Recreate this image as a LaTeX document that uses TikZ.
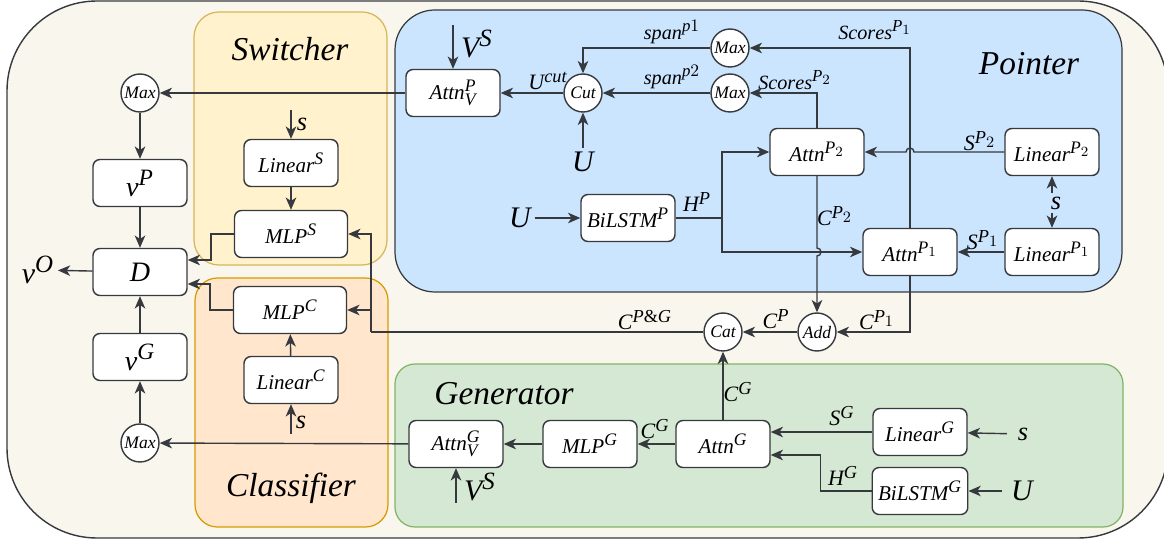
\documentclass[tikz,border=0pt]{standalone}
\usepackage{fontspec}
\setmainfont{Liberation Serif}
\usepackage[italic]{mathastext}
\usepackage{tikz}
\usetikzlibrary{arrows.meta}
\usetikzlibrary{positioning, calc}

\definecolor{outerfill}{HTML}{F9F7ED}
\definecolor{outerline}{HTML}{36393D}
\definecolor{ptrfill}{HTML}{CCE5FF}
\definecolor{swfill}{HTML}{FFF2CC}
\definecolor{swline}{HTML}{D6B656}
\definecolor{clsfill}{HTML}{FFE6CC}
\definecolor{clsline}{HTML}{D79B00}
\definecolor{genfill}{HTML}{D5E8D4}
\definecolor{genline}{HTML}{82B366}

\tikzset{
  block/.style={draw=outerline, rounded corners=0.14cm, fill=white, line width=0.8pt,
    minimum width=1.88cm, minimum height=0.94cm, font=\fontsize{12}{14}\selectfont},
  op/.style={draw=outerline, circle, fill=white, line width=0.8pt, inner sep=0pt,
    minimum size=0.76cm, font=\fontsize{10}{12}\selectfont},
  lbl/.style={inner sep=1pt, font=\fontsize{12.5}{14}\selectfont},
  small/.style={inner sep=1pt, font=\fontsize{11.5}{13}\selectfont},
  inp/.style={inner sep=2pt, font=\fontsize{17}{19}\selectfont},
  title/.style={font=\fontsize{19}{22}\selectfont},
  flow/.style={-{Stealth[length=7pt,width=6pt,inset=2pt]}, line width=0.8pt, outerline},
  wire/.style={line width=0.8pt, outerline},
}

\begin{document}
\begin{tikzpicture}[x=0.02cm, y=-0.02cm]
    \useasboundingbox (0,0) rectangle (1164,540);

    \draw[outerline, fill=outerfill, line width=0.8pt, rounded corners=1.8cm] (7,1) rectangle (1168,538);
    \draw[swline, fill=swfill, line width=0.7pt, rounded corners=0.5cm] (194,12) rectangle (387,265);
    \draw[clsline, fill=clsfill, line width=0.7pt, rounded corners=0.45cm] (195,278) rectangle (388,527);
    \draw[outerline, fill=ptrfill, line width=0.7pt, rounded corners=0.8cm] (395,10) rectangle (1122,292);
    \draw[genline, fill=genfill, line width=0.7pt, rounded corners=0.4cm] (395,364) rectangle (1123,527);

    \node[title] (Sw) at (290,49) {$Switcher$};
    \node[title] (Cl) at (291,488) {$Classifier$};
    \node[title] (Pt) at (1029,64) {$Pointer$};
    \node[title] (Gn) at (504,394) {$Generator$};

    \node[op] (MaxVP) at (140,93) {$Max$};
    \node[block, font=\fontsize{16}{18}\selectfont] (VP) at (140,183) {$v^P$};
    \node[block, font=\fontsize{16}{18}\selectfont] (D) at (140,272) {$D$};
    \node[block, font=\fontsize{16}{18}\selectfont] (VG) at (140,357) {$v^G$};
    \node[op] (MaxVG) at (140,443) {$Max$};
    \node[inp] (VO) at (38,270) {$v^O$};

    \node[block] (LS) at (291,163) {$Linear^S$};
    \node[block, minimum width=2.26cm] (MLPS) at (291,234) {$MLP^S$};
    \node[block, minimum width=2.26cm] (MLPC) at (290,310) {$MLP^C$};
    \node[block] (LC) at (291,380) {$Linear^C$};

    \node[block] (AVP) at (453,93) {$Attn^P_V$};
    \node[op] (Cut) at (583,93) {$Cut$};
    \node[op] (MaxA) at (730,48) {$Max$};
    \node[op] (MaxB) at (730,93) {$Max$};
    \node[block] (AP2) at (817,152) {$Attn^{P_2}$};
    \node[block] (LP2) at (1052,152) {$Linear^{P_2}$};
    \node[block] (BLP) at (628,218) {$BiLSTM^P$};
    \node[block] (AP1) at (910,252) {$Attn^{P_1}$};
    \node[block] (LP1) at (1052,252) {$Linear^{P_1}$};
    \node[op] (Add) at (817,332) {$Add$};
    \node[op] (Cat) at (723,332) {$Cat$};

    \node[block] (AVG) at (456,444) {$Attn^G_V$};
    \node[block] (MLPG) at (590,444) {$MLP^G$};
    \node[block] (AG) at (723,444) {$Attn^G$};
    \node[block] (LG) at (920,432) {$Linear^G$};
    \node[block] (BLG) at (920,491) {$BiLSTM^G$};

    \coordinate (VSa) at (453,25);
    \node[inp] (VSaL) at (477,44) {$V^S$};
    \node[inp] (UCut) at (583,162) {$U$};
    \node[inp] (UBLP) at (520,218) {$U$};
    \node[inp, font=\fontsize{15}{17}\selectfont] (SP) at (1056,203) {$s$};
    \coordinate (SSw) at (291,110);
    \node[inp, font=\fontsize{15}{17}\selectfont] (SSwL) at (302,124) {$s$};
    \coordinate (SCl) at (291,434);
    \node[inp, font=\fontsize{15}{17}\selectfont] (SClL) at (301,422) {$s$};
    \coordinate (VSb) at (456,503);
    \node[inp] (VSbL) at (480,487) {$V^S$};
    \node[inp, font=\fontsize{15}{17}\selectfont] (SG) at (1023,434) {$s$};
    \node[inp] (UG) at (1022,491) {$U$};

    \node[lbl] (LUcut) at (548,81) {$U^{cut}$};
    \node[small] (LSp1) at (672,32) {$span^{p1}$};
    \node[small] (LSp2) at (672,77) {$span^{p2}$};
    \node[small] (LSc2) at (795,80) {$Scores^{P_2}$};
    \node[small] (LSc1) at (875,30) {$Scores^{P_1}$};
    \node[lbl] (LS2) at (980,141) {$S^{P_2}$};
    \node[lbl] (LS1) at (983,240) {$S^{P_1}$};
    \node[lbl] (LHP) at (697,202) {$H^P$};
    \node[lbl] (LC2) at (835,216) {$C^{P_2}$};
    \node[lbl] (LC1) at (877,320) {$C^{P_1}$};
    \node[lbl] (LCP) at (776,319) {$C^P$};
    \node[lbl] (LCPG) at (645,320) {$C^{P\&G}$};
    \node[lbl] (LCGa) at (655,429) {$C^G$};
    \node[lbl] (LCGb) at (738,392) {$C^G$};
    \node[lbl] (LSG) at (842,416) {$S^G$};
    \node[lbl] (LHG) at (843,476) {$H^G$};

    \draw[flow] (AVP) -- (MaxVP);
    \draw[flow] (MaxVP) -- (VP);
    \draw[flow] (VP) -- (D);
    \draw[flow] (VG) -- (D);
    \draw[flow] (MaxVG) -- (VG);
    \draw[flow] (D) -- (VO);
    \draw[flow] (MLPS.west) -- ++(-23,0) |- ($(D.east)+(0,-12)$);
    \draw[flow] (MLPC.west) -- ++(-23,0) |- ($(D.east)+(0,12)$);
    \draw[flow] (SSw) -- (LS);
    \draw[flow] (LS) -- (MLPS);
    \draw[flow] (SCl) -- (LC);
    \draw[flow] (LC) -- (MLPC);

    \coordinate (J) at (371,332);
    \draw[wire] (Cat.west) -- (J);
    \draw[flow] (J) |- (MLPS.east);
    \draw[flow] (J |- MLPC.east) -- (MLPC.east);

    \draw[flow] (VSa) -- (AVP);
    \draw[flow] (Cut) -- (AVP);
    \draw[flow] (UCut) -- (Cut);
    \draw[flow] (MaxA.west) -| (Cut.north);
    \draw[flow] (MaxB) -- (Cut);
    \draw[flow] (AP2.north) |- (MaxB.east);
    \draw[flow] (AP1.north) |- (MaxA.east);
    \draw[flow] (UBLP) -- (BLP);
    \coordinate (HJ) at (722,218);
    \draw[wire] (BLP.east) -- (HJ);
    \draw[flow] (HJ) |- (AP2.west);
    \draw[flow] (HJ) |- (AP1.west);
    \draw[flow] (LP2.west) -- ($(AP1.north |- LP2.west)+(4,0)$) arc[start angle=0, end angle=180, radius=0.08cm] -- (AP2.east);
    \draw[flow] (LP1) -- (AP1);
    \draw[flow] (SP.north -| LP2) -- (LP2.south);
    \draw[flow] (SP.south -| LP1) -- (LP1.north);
    \draw[flow] (AP2.south) -- ($(AP2.south |- AP1.west)+(0,-4)$) arc[start angle=90, end angle=-90, radius=0.08cm] -- (Add.north);
    \draw[flow] (AP1.south) |- (Add.east);
    \draw[flow] (Add) -- (Cat);

    \draw[flow] (AG) -- (Cat);
    \draw[flow] (AG) -- (MLPG);
    \draw[flow] (MLPG) -- (AVG);
    \draw[flow] (AVG) -- (MaxVG);
    \draw[flow] (VSb) -- (AVG);
    \draw[flow] (LG) -- (AG.east |- LG);
    \draw[flow] (BLG.west) -- ++(-51,0) |- ($(AG.east)+(0,11)$);
    \draw[flow, shorten <=4pt] (SG) -- (LG);
    \draw[flow, shorten <=3pt] (UG) -- (BLG);
\end{tikzpicture}
\end{document}
